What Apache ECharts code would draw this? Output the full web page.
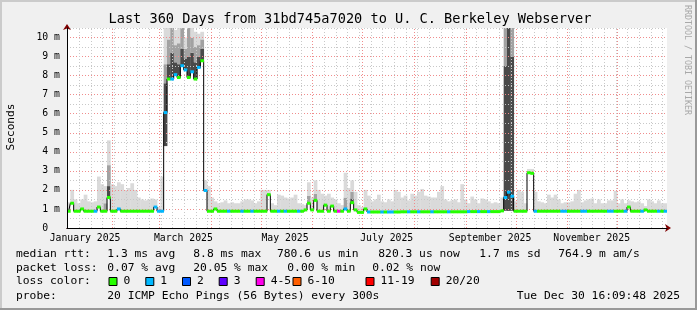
<!DOCTYPE html>
<html><head><meta charset="utf-8">
<style>html,body{margin:0;padding:0;background:#f0f0f0}#c{width:697px;height:310px}</style>
<script src="https://cdn.jsdelivr.net/npm/echarts@6/dist/echarts.min.js"></script>
</head><body><div id="c"></div><script>
const DAY = 86400000;
const START = Date.UTC(2025, 0, 4, 16, 9, 48);
const END = START + 360 * DAY;
const YMAX = 10.5;
const MONO = '"DejaVu Sans Mono", monospace';

// x-axis labels (placed mid-month) and month boundaries
const tickLabels = ['January 2025', 'March 2025', 'May 2025', 'July 2025', 'September 2025', 'November 2025'];
const tickDates = [[2025,0,15,12],[2025,2,15,12],[2025,4,15,12],[2025,6,15,12],[2025,8,15,12],[2025,10,15,12]];
const monthStarts = [[2025,1,1],[2025,2,1],[2025,3,1],[2025,4,1],[2025,5,1],[2025,6,1],[2025,7,1],[2025,8,1],[2025,9,1],[2025,10,1],[2025,11,1]];

// one sample every 2 days (ms)
const median = [
0.88,1.3,0.88,0.88,1.0,0.88,0.88,0.88,0.88,1.1,
0.88,0.88,1.6,0.88,0.88,1.0,0.88,0.88,0.88,0.88,
0.88,0.88,0.88,0.88,0.88,0.88,1.1,0.88,0.88,6.06,
7.82,7.82,8.05,7.9,8.52,8.3,7.9,8.2,7.82,8.43,
8.78,1.97,0.88,0.88,1.0,0.88,0.88,0.88,0.88,0.88,
0.88,0.88,0.88,0.88,0.88,0.88,0.88,0.88,0.88,0.88,
1.75,0.88,0.88,0.88,0.88,0.88,0.88,0.88,0.88,0.88,
0.88,0.95,1.3,0.95,1.45,0.88,0.88,1.2,0.88,1.15,
0.88,0.88,0.88,1.0,0.88,1.33,0.95,0.82,0.82,1.0,
0.84,0.84,0.84,0.84,0.84,0.84,0.84,0.84,0.84,0.84,
0.85,0.85,0.85,0.85,0.85,0.85,0.85,0.85,0.85,0.85,
0.85,0.85,0.85,0.85,0.85,0.85,0.85,0.85,0.85,0.85,
0.86,0.86,0.86,0.86,0.86,0.86,0.86,0.86,0.86,0.86,
0.9,1.6,1.88,1.67,0.88,0.88,0.88,0.88,2.9,2.87,
0.88,0.88,0.88,0.88,0.88,0.88,0.88,0.88,0.88,0.88,
0.88,0.88,0.88,0.88,0.88,0.88,0.88,0.88,0.88,0.88,
0.88,0.88,0.88,0.88,0.88,0.88,0.88,0.88,1.1,0.88,
0.88,0.88,0.88,0.95,0.88,0.88,0.88,0.88,0.88,0.88
];
// lost pings (of 20) per sample
const lostPings = [
0,0,0,0,0,0,0,0,1,0,
0,0,0,0,0,1,0,0,0,0,
0,0,0,0,0,0,1,1,1,1,
0,1,1,0,1,1,0,1,0,1,
0,1,0,0,0,0,0,0,1,0,
0,0,1,0,0,1,0,0,0,0,
0,0,0,1,0,1,0,0,0,1,
0,0,0,0,0,0,0,0,0,0,
0,4,0,1,0,0,0,0,0,0,
1,0,0,0,1,0,1,1,0,0,
0,0,1,0,0,1,0,0,0,1,
0,0,0,0,1,0,0,0,0,0,
1,0,0,1,0,0,1,0,0,0,
0,1,1,1,0,0,0,0,0,0,
1,0,0,0,0,0,0,0,1,1,
0,0,0,0,1,1,0,0,0,0,
0,0,1,1,0,0,0,1,0,0,
0,0,1,0,0,0,0,1,0,1
];
// top of the light smoke (ms)
const smokeTop = [
1.35,2.0,1.5,1.3,1.5,1.75,1.4,1.35,1.4,2.7,
2.3,2.2,4.6,2.3,2.2,2.4,2.3,2.0,2.1,2.35,
2.0,1.6,1.5,1.45,1.5,1.55,1.5,1.1,2.7,10.5,
10.5,10.5,10.4,10.5,10.5,10.0,10.5,10.5,10.3,10.2,
10.3,2.5,2.2,1.6,1.4,1.3,1.35,1.45,1.3,1.35,
1.3,1.3,1.4,1.5,1.5,1.45,1.3,1.4,2.0,2.0,
2.0,1.3,1.2,1.75,1.7,1.6,1.55,1.6,1.75,1.3,
1.25,1.2,2.4,1.6,2.5,2.0,1.8,1.7,1.8,1.6,
1.5,1.3,1.2,2.9,2.1,2.5,1.9,1.2,1.1,2.0,
1.7,1.4,1.5,1.75,1.4,1.35,1.5,1.4,2.0,1.9,
1.6,1.7,1.45,1.8,1.7,1.9,2.05,1.7,1.65,1.6,
1.6,1.9,2.2,1.5,1.4,1.45,1.5,1.35,2.3,1.5,
1.3,1.65,1.5,1.3,1.55,1.5,1.4,1.3,1.35,1.3,
1.6,10.5,10.5,10.5,1.4,2.0,1.9,1.3,3.1,3.1,
1.9,1.4,1.35,1.3,1.75,1.6,1.75,1.5,1.3,1.35,
1.35,1.4,1.8,2.0,1.35,1.45,1.5,1.55,1.3,1.5,
1.3,1.3,1.45,1.45,1.95,1.3,1.5,1.3,1.45,1.4,
1.35,1.4,1.3,1.15,1.5,1.4,1.3,1.45,1.3,1.3
];
// denser smoke layers: [sample index, top in ms]
const smokeMid = [[11,1.3],[12,3.3],[29,8.6],[30,9.9],[31,10.5],[32,9.6],[33,9.7],[34,10.5],[35,9.4],[36,10.5],[37,10.0],[38,9.5],[39,9.6],[40,9.9],[72,1.7],[74,1.8],[83,1.6],[85,1.9],[131,10.5],[132,10.5],[133,10.5]];
const smokeDark = [[12,2.2],[29,7.6],[30,8.6],[31,9.2],[32,8.7],[33,8.6],[34,9.4],[35,8.9],[36,9.0],[37,9.2],[38,8.7],[39,9.0],[40,9.4],[85,1.55],[131,8.5],[132,10.5],[133,9.0]];
const smokeLow = [[29,4.3],[131,0.9],[132,0.9],[133,0.9]];

const lossLabels = ['0', '1', '2', '3', '4-5', '6-10', '11-19', '20/20'];
const lossColors = ['#26ff00', '#00b8ff', '#0059ff', '#5e00ff', '#ff00ea', '#ff5e00', '#ff0000', '#a10000'];

const legendRows = [
  { y: 254, items: [[16, 'median rtt:'], [107.3, '1.3 ms avg'], [193.3, '8.8 ms max'], [277, '780.6 us min'], [378.3, '820.3 us now'], [479.3, '1.7 ms sd'], [558.3, '764.9 m am/s']] },
  { y: 268.3, items: [[16, 'packet loss:'], [107.3, '0.07 % avg'], [193.3, '20.05 % max'], [287.3, '0.00 % min'], [372.3, '0.02 % now']] },
  { y: 281.5, items: [[16, 'loss color:']] },
  { y: 296, items: [[16, 'probe:'], [107.3, '20 ICMP Echo Pings (56 Bytes) every 300s']] }
];
const lossBoxX = [108.5, 145.3, 182, 218.7, 255.7, 292.5, 365.5, 430.7];
const stampText = 'Tue Dec 30 16:09:48 2025';
const titleText = 'Last 360 Days from 31bd745a7020 to U. C. Berkeley Webserver';

// ---------- build ----------
const bucketOf = c => c === 0 ? 0 : c === 1 ? 1 : c === 2 ? 2 : c === 3 ? 3 : c <= 5 ? 4 : c <= 10 ? 5 : c < 20 ? 6 : 7;
const times = median.map((_, i) => START + (2 * i + 1) * DAY);
const midMap = new Map(smokeMid), darkMap = new Map(smokeDark), lowMap = new Map(smokeLow);
const smokeData = median.map((m, i) => {
  const lo = lowMap.has(i) ? lowMap.get(i) : m;
  const dk = Math.max(lo, darkMap.has(i) ? darkMap.get(i) : lo);
  const md = Math.max(dk, midMap.has(i) ? midMap.get(i) : dk);
  const hi = Math.max(md, smokeTop[i]);
  return [times[i], lo, dk, md, hi];
});
const lossData = median.map((m, i) => [times[i], m, bucketOf(lostPings[i])]);
const lineData = median.map((m, i) => [times[i], m]);

const labelTimes = tickDates.map(d => Date.UTC(d[0], d[1], d[2], d[3]));
const labelMap = new Map(labelTimes.map((t, i) => [t, tickLabels[i]]));
const monthTimes = monthStarts.map(d => Date.UTC(d[0], d[1], d[2]));
const weekTimes = [];
for (let t = Date.UTC(2025, 0, 5); t < END; t += 7 * DAY) weekTimes.push(t);

function renderSmoke(params, api) {
  const t = api.value(0);
  const xa = api.coord([t - DAY, 0])[0], xb = api.coord([t + DAY, 0])[0];
  const y = v => api.coord([t, v])[1];
  const layers = [[1, 2, '#4a4a4a'], [2, 3, '#a2a2a2'], [3, 4, '#dadada']];
  const children = [];
  layers.forEach(([a, b, c]) => {
    const va = api.value(a), vb = api.value(b);
    if (vb > va) children.push({ type: 'rect', shape: { x: xa, y: y(vb), width: xb - xa + 0.4, height: y(va) - y(vb) }, style: { fill: c } });
  });
  return { type: 'group', children };
}
function renderLoss(params, api) {
  const t = api.value(0), v = api.value(1), b = api.value(2);
  const pa = api.coord([t - DAY, v]), pb = api.coord([t + DAY, v]);
  return { type: 'rect', shape: { x: pa[0], y: pa[1] - 1.5, width: pb[0] - pa[0] + 0.3, height: 3 }, style: { fill: lossColors[b] } };
}

const graphics = [
  { type: 'rect', z: 100, shape: { x: 0, y: 0, width: 697, height: 2 }, style: { fill: '#cbcbcb' } },
  { type: 'rect', z: 100, shape: { x: 0, y: 0, width: 2, height: 310 }, style: { fill: '#cbcbcb' } },
  { type: 'rect', z: 100, shape: { x: 0, y: 308, width: 697, height: 2 }, style: { fill: '#999999' } },
  { type: 'rect', z: 100, shape: { x: 695, y: 0, width: 2, height: 310 }, style: { fill: '#999999' } },
  { type: 'text', z: 100, x: 350, y: 19, style: { text: titleText, fontFamily: MONO, fontSize: 13.6, fill: '#000', align: 'center', verticalAlign: 'middle' } },
  { type: 'text', z: 100, x: 11, y: 127, rotation: Math.PI / 2, style: { text: 'Seconds', fontFamily: MONO, fontSize: 11.2, fill: '#000', align: 'center', verticalAlign: 'middle' } },
  { type: 'text', z: 100, x: 687.5, y: 60, rotation: -Math.PI / 2, style: { text: 'RRDTOOL / TOBI OETIKER', fontFamily: MONO, fontSize: 8.3, fill: '#a8a8a8', align: 'center', verticalAlign: 'middle' } },
  { type: 'text', z: 100, x: 680, y: 296, style: { text: stampText, fontFamily: MONO, fontSize: 11.3, fill: '#000', align: 'right', verticalAlign: 'middle' } }
];
legendRows.forEach(r => r.items.forEach(([x, s]) => graphics.push({ type: 'text', z: 100, x, y: r.y, style: { text: s, fontFamily: MONO, fontSize: 11.3, fill: '#000', align: 'left', verticalAlign: 'middle' } })));
lossLabels.forEach((s, i) => {
  graphics.push({ type: 'rect', z: 100, shape: { x: lossBoxX[i] + 0.5, y: 277.5, width: 8, height: 8 }, style: { fill: lossColors[i], stroke: '#000', lineWidth: 1 } });
  graphics.push({ type: 'text', z: 100, x: lossBoxX[i] + 15, y: 281.5, style: { text: s, fontFamily: MONO, fontSize: 11.3, fill: '#000', align: 'left', verticalAlign: 'middle' } });
});

const hidden = { axisLabel: { show: false }, axisTick: { show: false }, splitLine: { show: false } };
const chart = echarts.init(document.getElementById('c'), null, { renderer: 'canvas' });
chart.setOption({
  animation: false,
  backgroundColor: '#f0f0f0',
  grid: { left: 67, right: 30, top: 28, height: 200, show: true, backgroundColor: '#ffffff', borderWidth: 0, containLabel: false, outerBoundsMode: 'none' },
  xAxis: [
    { type: 'value', position: 'bottom', min: START, max: END, z: 7, axisLine: { show: true, onZero: false, lineStyle: { color: '#000', width: 1 } }, axisTick: { show: false }, splitLine: { show: false },
      axisLabel: { show: true, customValues: labelTimes, formatter: v => labelMap.get(v) || '', fontFamily: MONO, fontSize: 9.8, color: '#000', margin: 5, hideOverlap: false, showMinLabel: true, showMaxLabel: true } },
    Object.assign({ type: 'value', position: 'bottom', min: START, max: END, z: 6, axisLine: { show: true, onZero: false, symbol: ['none', 'arrow'], symbolSize: [6, 6], symbolOffset: [0, 4], lineStyle: { color: '#7f0000', width: 1 } } }, hidden)
  ],
  yAxis: [
    { type: 'value', position: 'left', min: 0, max: YMAX, interval: 1, z: 4, axisLine: { show: false }, axisTick: { show: false },
      splitLine: { show: true, showMinLine: false, showMaxLine: false, lineStyle: { color: '#f08c8c', type: [1, 2], width: 1 } },
      axisLabel: { show: true, fontFamily: MONO, fontSize: 9.8, color: '#000', margin: 7, showMaxLabel: false,
        formatter: v => v === 0 ? '0  ' : (Math.abs(v - Math.round(v)) < 1e-9 ? Math.round(v) + ' m' : '') } },
    { type: 'value', position: 'left', min: 0, max: YMAX, interval: 0.5, z: 3, axisLine: { show: false }, axisTick: { show: false }, axisLabel: { show: false },
      splitLine: { show: true, showMinLine: false, lineStyle: { color: '#c8c8c8', type: [1, 2], width: 1 } } },
    Object.assign({ type: 'value', position: 'left', min: 0, max: YMAX, z: 6, axisLine: { show: true, onZero: false, symbol: ['none', 'arrow'], symbolSize: [6, 6], symbolOffset: [0, 4], lineStyle: { color: '#7f0000', width: 1 } } }, hidden),
    Object.assign({ type: 'value', position: 'left', min: 0, max: YMAX, z: 7, axisLine: { show: true, onZero: false, lineStyle: { color: '#000', width: 1 } } }, hidden)
  ],
  series: [
    { type: 'custom', name: 'smoke', renderItem: renderSmoke, data: smokeData, encode: { x: 0, y: [1, 4] }, z: 2, clip: true, silent: true },
    { type: 'line', name: 'grid', data: [], z: 3, silent: true,
      markLine: { silent: true, symbol: ['none', 'none'], label: { show: false }, animation: false,
        data: weekTimes.map(t => ({ xAxis: t, lineStyle: { color: '#c8c8c8', type: [1, 2], width: 1 } }))
          .concat(monthTimes.map(t => ({ xAxis: t, lineStyle: { color: '#f08c8c', type: [1, 2], width: 1 } }))) } },
    { type: 'line', name: 'median', data: lineData, step: 'middle', showSymbol: false, symbol: 'none', z: 5, silent: true, lineStyle: { color: '#000', width: 1 } },
    { type: 'custom', name: 'loss', renderItem: renderLoss, data: lossData, encode: { x: 0, y: 1 }, z: 6, clip: true, silent: true }
  ],
  graphic: graphics
});
</script></body></html>
